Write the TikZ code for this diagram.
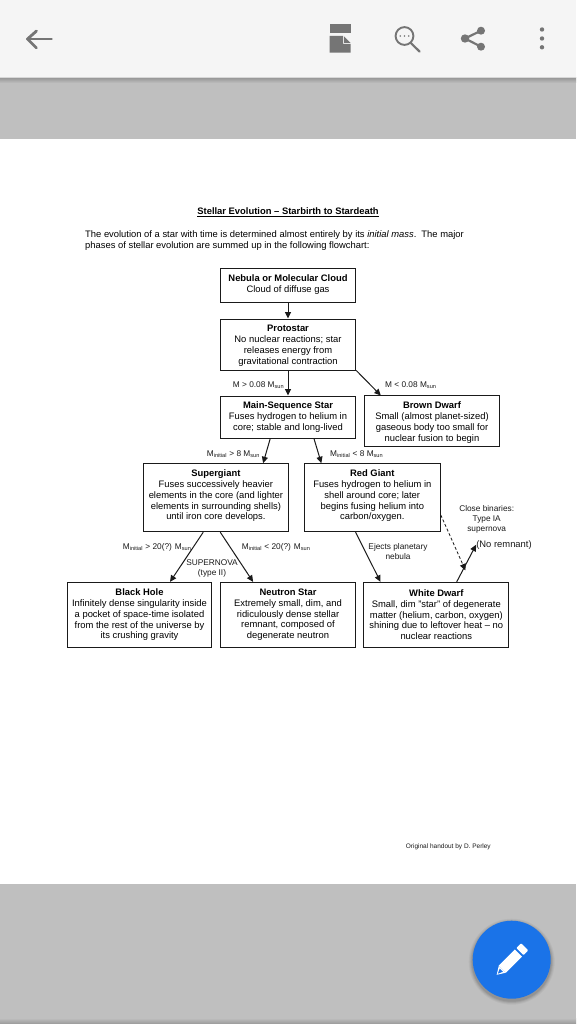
\documentclass[tikz,border=0pt]{standalone}
\usepackage{fontspec}
\setmainfont{Liberation Sans}
\usetikzlibrary{arrows.meta,calc}
\definecolor{barbg}{HTML}{F5F5F5}
\definecolor{pagegrey}{HTML}{BFBFBF}
\definecolor{icongrey}{HTML}{757575}
\definecolor{fabblue}{HTML}{1A73E8}
\definecolor{ink}{HTML}{1A1A1A}
\newcommand{\boxfont}{\fontsize{9.4}{10.9}\selectfont}
\newcommand{\tagfont}{\fontsize{8.3}{10}\selectfont}
\newcommand{\sbs}[1]{\textsubscript{\fontsize{5.6}{6}\selectfont #1}}
\newcommand{\hd}[1]{\textbf{#1}}
\newcommand{\pushup}[1]{\\[#1pt]\mbox{}}
\newcommand{\pushdown}[1]{\mbox{}\\[#1pt]}
\tikzset{
  x=1pt,y=-1pt,
  stagebox/.style={draw=ink,line width=0.95pt,fill=white,inner sep=0pt,align=center,text=black,font=\boxfont},
  flow/.style={draw=ink,line width=1pt,-{Triangle[length=6.5pt,width=6pt]}},
  dashflow/.style={flow,densely dashed,line width=0.8pt},
  tag/.style={inner sep=0pt,font=\tagfont,text=ink,align=center},
  tagleft/.style={tag,anchor=west},
  icon/.style={fill=icongrey,draw=none},
}
\begin{document}
\begin{tikzpicture}
\useasboundingbox (0,0) rectangle (576,1024);
% screen background
\fill[pagegrey] (0,0) rectangle (576,1024);
\fill[white] (0,139) rectangle (576,884);
\shade[top color=pagegrey!80!black,bottom color=pagegrey] (0,78) rectangle (576,83);
\shade[top color=pagegrey,bottom color=pagegrey!80!black] (0,1018) rectangle (576,1024);
\fill[barbg] (0,0) rectangle (576,77.5);
\fill[barbg!88!black] (0,77) rectangle (576,78.3);
% toolbar icons
\draw[icongrey,line width=2.8pt,line cap=round,line join=round] (36.5,31) -- (27.5,39) -- (36.5,48);
\draw[icongrey,line width=2.8pt,line cap=round] (27.5,39) -- (51.5,39);
\fill[icon] (329.5,24) rectangle (350.5,33);
\fill[icon] (329.5,36) -- (343,36) -- (343,44) -- (350.5,44) -- (350.5,52.7) -- (329.5,52.7) -- cycle;
\fill[icon] (344.2,36.5) -- (350.5,43) -- (344.2,43) -- cycle;
\draw[icongrey,line width=1.9pt] (404.5,36) circle (8.9);
\draw[icongrey,line width=2.2pt,line cap=round] (410.8,43) -- (419.5,51.5);
\fill[icon] (400.3,36) circle (0.9) (404.5,36) circle (0.9) (408.7,36) circle (0.9);
\draw[icongrey,line width=2.2pt] (481,30.7) -- (465,38.5) -- (481,46.7);
\fill[icon] (481,30.7) circle (4) (465,38.5) circle (4.2) (481,46.7) circle (4);
\fill[icon] (542,29.5) circle (2.2) (542,38.5) circle (2.2) (542,47.3) circle (2.2);
% floating button
\foreach \r/\o in {43/0.04,42/0.05,41/0.07,40/0.08}{\fill[black,opacity=\o] (511.7,961.7) circle (\r);}
\fill[fabblue] (511.7,959.7) circle (39);
\begin{scope}[shift={(511.2,960.3)},rotate=45]
  \fill[white] (-12.5,-5) rectangle (10.3,5);
  \fill[white,rounded corners=0.8pt] (12.3,-5) rectangle (19,5);
  \fill[white] (-12.5,-5) -- (-20.5,0) -- (-12.5,5) -- cycle;
  \fill[fabblue] (-14,-2.2) -- (-19,0) -- (-14,2.2) -- cycle;
\end{scope}
% heading
\node[inner sep=0pt,font=\fontsize{9.4}{11}\selectfont\bfseries] (title) at (288,212) {\underline{Stellar Evolution – Starbirth to Stardeath}};
\node[inner sep=0pt,anchor=west,font=\fontsize{9.4}{11.4}\selectfont,align=left] (intro) at (85,240.3) {The evolution of a star with time is determined almost entirely by its \textit{initial mass}.\, The major\\phases of stellar evolution are summed up in the following flowchart:};
% boxes
\node[stagebox,minimum width=135.5,minimum height=33.7] (nebula) at (288,285.2) {\hd{Nebula or Molecular Cloud}\\Cloud of diffuse gas\pushup{-6.9}};
\node[stagebox,minimum width=135.5,minimum height=51] (proto) at (288,344.5) {\pushdown{-1.9}\hd{Protostar}\\No nuclear reactions; star\\releases energy from\\gravitational contraction};
\node[stagebox,minimum width=135.5,minimum height=42] (main) at (288,417) {\hd{Main-Sequence Star}\\Fuses hydrogen to helium in\\core; stable and long-lived};
\node[stagebox,minimum width=135.5,minimum height=50.7] (brown) at (432,421.3) {\pushdown{-1.2}\hd{Brown Dwarf}\\Small (almost planet-sized)\\gaseous body too small for\\nuclear fusion to begin};
\node[stagebox,minimum width=144.3,minimum height=68] (super) at (215.9,497.7) {\hd{Supergiant}\\Fuses successively heavier\\elements in the core (and lighter\\elements in surrounding shells)\\until iron core develops.\pushup{-5}};
\node[stagebox,minimum width=136,minimum height=68] (red) at (372.3,497.7) {\hd{Red Giant}\\Fuses hydrogen to helium in\\shell around core; later\\begins fusing helium into\\carbon/oxygen.\pushup{-5}};
\node[stagebox,minimum width=144.4,minimum height=64.7] (black) at (139.5,614.7) {\hd{Black Hole}\\Infinitely dense singularity inside\\a pocket of space-time isolated\\from the rest of the universe by\\its crushing gravity};
\node[stagebox,minimum width=135.4,minimum height=64.7] (neutron) at (288,614.7) {\hd{Neutron Star}\\Extremely small, dim, and\\ridiculously dense stellar\\remnant, composed of\\degenerate neutron};
\node[stagebox,minimum width=144.7,minimum height=64.7] (white) at (436.3,614.7) {\hd{White Dwarf}\\Small, dim "star" of degenerate\\matter (helium, carbon, oxygen)\\shining due to leftover heat – no\\nuclear reactions};
% free labels
\node[tag,font=\fontsize{9.4}{11}\selectfont] (noremn) at (504,544.7) {(No remnant)};
\node[tagleft] (lm1) at (232.7,385) {M > 0.08 M\sbs{sun}};
\node[tagleft] (lm2) at (385,385) {M < 0.08 M\sbs{sun}};
\node[tagleft] (lm3) at (206.7,454) {M\sbs{initial} > 8 M\sbs{sun}};
\node[tagleft] (lm4) at (330,454) {M\sbs{initial} < 8 M\sbs{sun}};
\node[tagleft] (lm5) at (122.7,547) {M\sbs{initial} > 20(?) M\sbs{sun}};
\node[tagleft] (lm6) at (241.7,547) {M\sbs{initial} < 20(?) M\sbs{sun}};
\node[tag,font=\fontsize{8.3}{10.8}\selectfont] (sn) at (212,568.5) {SUPERNOVA\\(type II)};
\node[tag] (ej) at (398,552) {Ejects planetary\\nebula};
\node[tag] (cb) at (486.7,519.7) {Close binaries:\\Type IA\\supernova};
\node[inner sep=0pt,font=\fontsize{6.5}{8}\selectfont,text=ink] (credit) at (448.3,846.7) {Original handout by D. Perley};
% connectors
\draw[flow] (nebula.south) -- (proto.north);
\draw[flow] (proto.south) -- (main.north);
\draw[flow] (proto.south east) -- ($(brown.north west)!0.125!(brown.north east)$);
\draw[flow] ($(main.south west)!0.37!(main.south east)$) -- ($(super.north west)!0.825!(super.north east)$);
\draw[flow] ($(main.south west)!0.69!(main.south east)$) -- ($(red.north west)!0.128!(red.north east)$);
\draw[flow] ($(super.south west)!0.413!(super.south east)$) -- ($(black.north west)!0.71!(black.north east)$);
\draw[flow] ($(super.south west)!0.53!(super.south east)$) -- ($(neutron.north west)!0.244!(neutron.north east)$);
\draw[flow] ($(red.south west)!0.378!(red.south east)$) -- ($(white.north west)!0.117!(white.north east)$);
\draw[dashflow] ($(red.north east)!0.75!(red.south east)$) -- ($(white.north west)!0.70!(white.north east)+(0,-11.5)$);
\draw[flow] ($(white.north west)!0.64!(white.north east)$) -- (noremn.west);
\end{tikzpicture}
\end{document}
